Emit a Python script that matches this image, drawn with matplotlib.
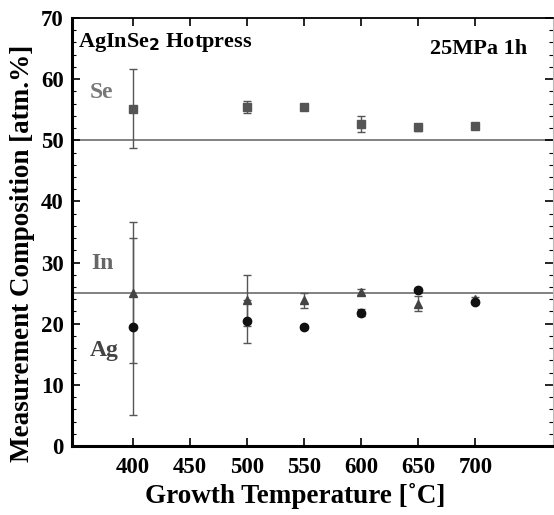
import matplotlib
matplotlib.use("Agg")
import matplotlib.pyplot as plt
from matplotlib.ticker import MultipleLocator

temps = [400, 500, 550, 600, 650, 700]
se = [55.2, 55.5, 55.5, 52.7, 52.1, 52.3]
se_err = [6.5, 1.0, 0.3, 1.3, 0.6, 0.3]
in_ = [25.1, 23.8, 23.8, 25.2, 23.3, 24.0]
in_err = [11.5, 4.1, 1.3, 0.5, 1.3, 0.4]
ag = [19.5, 20.4, 19.5, 21.8, 25.5, 23.5]
ag_err = [14.5, 3.5, 0.3, 0.6, 0.3, 0.3]
ref_lines = [50, 25]
xticks = [400, 450, 500, 550, 600, 650, 700]
yticks = [0, 10, 20, 30, 40, 50, 60, 70]

plt.rcParams['font.family'] = ['Liberation Serif', 'DejaVu Serif']
plt.rcParams['font.weight'] = 'bold'

fig = plt.figure(figsize=(5.54, 5.15), dpi=100)
ax = fig.add_axes([0.130, 0.134, 0.868, 0.831])

for v in ref_lines:
    ax.axhline(v, color='#777777', lw=1.3, zorder=1)

ekw = dict(ecolor='#555555', elinewidth=1.0, capsize=3, capthick=1.0, ls='none', zorder=3)
ax.errorbar(temps, se, yerr=se_err, fmt='s', color='#555555', ms=5.5, **ekw)
ax.errorbar(temps, in_, yerr=in_err, fmt='^', color='#444444', ms=5.5, **ekw)
ax.errorbar(temps, ag, yerr=ag_err, fmt='o', color='#111111', ms=6, **ekw)

ax.set_xlim(346.5, 768)
ax.set_ylim(0, 70)
ax.set_xticks(xticks)
ax.set_yticks(yticks)
ax.yaxis.set_minor_locator(MultipleLocator(2))
ax.tick_params(axis='both', which='major', direction='in', length=6, width=1.2,
               labelsize=16.5, top=True, right=True, pad=6)
ax.tick_params(axis='x', which='major', pad=8)
ax.tick_params(axis='y', which='minor', direction='in', length=3, width=0.8, right=True, left=True)
ax.tick_params(axis='x', which='major', labeltop=False)
for lab in ax.get_xticklabels() + ax.get_yticklabels():
    lab.set_fontweight('bold')

ax.spines['left'].set_linewidth(2.2)
ax.spines['bottom'].set_linewidth(2.2)
ax.spines['top'].set_linewidth(1.3)
ax.spines['right'].set_linewidth(0.8)
ax.spines['right'].set_color('#bbbbbb')

ax.set_xlabel('Growth Temperature [˚C]', fontsize=19.5, fontweight='bold')
ax.set_ylabel('Measurement Composition [atm.%]', fontsize=19.5, fontweight='bold')
ax.xaxis.set_label_coords(0.464, -0.086)
ax.yaxis.set_label_coords(-0.077, 0.45)

ax.text(351.5, 66.0, 'AgInSe$_\\mathbf{2}$ Hotpress', fontsize=16, fontweight='bold', va='center')
ax.text(703, 65.0, '25MPa 1h', fontsize=16, fontweight='bold', va='center', ha='center')
ax.text(362, 57.8, 'Se', fontsize=17, fontweight='bold', color='#777777', va='center')
ax.text(363, 29.8, 'In', fontsize=17, fontweight='bold', color='#666666', va='center')
ax.text(362, 15.6, 'Ag', fontsize=17, fontweight='bold', color='#444444', va='center')

fig.savefig('out.png', dpi=100)
